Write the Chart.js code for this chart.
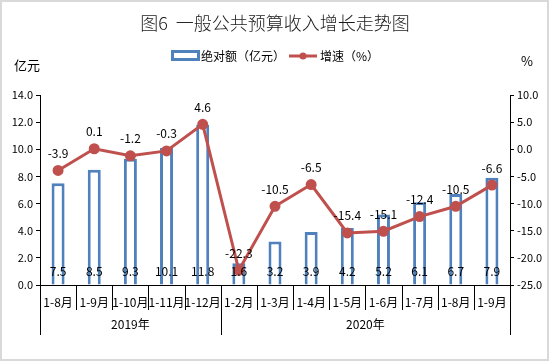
<!DOCTYPE html>
<html><head><meta charset="utf-8">
<script src="https://cdn.jsdelivr.net/npm/chart.js@4/dist/chart.umd.min.js"></script>
<style>html,body{margin:0;padding:0;background:#fff}#wrap{width:549px;height:361px;position:relative}</style>
</head><body><div id="wrap"><canvas id="c" width="549" height="361"></canvas></div>
<script>
const categories = ['1-8月','1-9月','1-10月','1-11月','1-12月','1-2月','1-3月','1-4月','1-5月','1-6月','1-7月','1-8月','1-9月'];
const groups = [{label:'2019年', from:0, to:4},{label:'2020年', from:5, to:12}];
const amountValues = [7.5, 8.5, 9.3, 10.1, 11.8, 1.6, 3.2, 3.9, 4.2, 5.2, 6.1, 6.7, 7.9];
const growthValues = [-3.9, 0.1, -1.2, -0.3, 4.6, -22.3, -10.5, -6.5, -15.4, -15.1, -12.4, -10.5, -6.6];
const leftTicks = [0, 14, 2];
const rightTicks = [-25, 10, 5];

const FONT = '"Microsoft YaHei","Noto Sans CJK SC",sans-serif';
const BLUE = '#4F81BD', RED = '#C0504D', TXT = '#000000';

const decor = {
  id:'decor',
  afterDraw(chart){
    const ctx = chart.ctx, ca = chart.chartArea, x = chart.scales.x;
    ctx.save();
    // border
    ctx.strokeStyle = '#d9d9d9'; ctx.lineWidth = 2;
    ctx.strokeRect(1,1,chart.width-2,chart.height-2);
    // title
    ctx.fillStyle = '#1a1a1a'; ctx.textAlign='center'; ctx.textBaseline='middle';
    ctx.font = '300 18px '+FONT;
    ctx.fillText('图6  一般公共预算收入增长走势图', 275, 23);
    // legend
    ctx.font = '12px '+FONT; ctx.textAlign='left';
    ctx.fillStyle='#fff'; ctx.strokeStyle=BLUE; ctx.lineWidth=3;
    ctx.fillRect(172.5,51.5,26,8); ctx.strokeRect(172.5,51.5,26,8);
    ctx.fillStyle=TXT; ctx.fillText(chart.data.datasets[0].label, 201, 56);
    ctx.strokeStyle=RED; ctx.lineWidth=3;
    ctx.beginPath(); ctx.moveTo(289,56); ctx.lineTo(317,56); ctx.stroke();
    ctx.fillStyle=RED; ctx.beginPath(); ctx.arc(303,56,3.5,0,Math.PI*2); ctx.fill();
    ctx.fillStyle=TXT; ctx.fillText(chart.data.datasets[1].label, 320, 56);
    // axis titles
    ctx.font = '13px '+FONT;
    ctx.textAlign='center';
    ctx.fillText('亿元', 27, 65);
    ctx.fillText('%', 527, 61);
    // data labels
    ctx.font = '12px '+FONT;
    const m0 = chart.getDatasetMeta(0), m1 = chart.getDatasetMeta(1);
    const y0 = chart.scales.y.getPixelForValue(0);
    m0.data.forEach((el,i)=>{ ctx.fillText(amountValues[i].toFixed(1), el.x, y0-14); });
    m1.data.forEach((el,i)=>{ ctx.fillText(growthValues[i].toFixed(1), el.x, el.y-17); });
    // category axis labels and separators
    ctx.strokeStyle='#000'; ctx.lineWidth=1;
    const n = categories.length;
    const half = (x.getPixelForValue(1)-x.getPixelForValue(0))/2;
    ctx.font = '12px '+FONT;
    categories.forEach((c,i)=>{ ctx.fillText(c, x.getPixelForValue(i), 302); });
    const groupEdges = new Set();
    groups.forEach(g=>{ groupEdges.add(g.from); groupEdges.add(g.to+1); });
    for(let i=0;i<=n;i++){
      const px = Math.round(x.getPixelForValue(i)-half)+0.5;
      ctx.beginPath(); ctx.moveTo(px, ca.bottom); ctx.lineTo(px, groupEdges.has(i)?335:310); ctx.stroke();
    }
    groups.forEach(g=>{
      const cx = (x.getPixelForValue(g.from)+x.getPixelForValue(g.to))/2;
      ctx.fillText(g.label, cx, 324);
    });
    ctx.restore();
  }
};

const axisCommon = {
  grid:{display:true, drawOnChartArea:false, drawTicks:true, tickLength:4, color:'#000'},
  border:{display:true, color:'#000', width:1},
  ticks:{color:TXT, font:{family:FONT, size:11}, padding:3, callback:v=>Number(v).toFixed(1)}
};

new Chart(document.getElementById('c'), {
  data:{
    labels: categories,
    datasets:[
      {type:'bar', label:'绝对额（亿元）', data:amountValues, yAxisID:'y',
       backgroundColor:'#ffffff', borderColor:BLUE, borderWidth:3,
       barPercentage:0.36, categoryPercentage:1, order:2},
      {type:'line', label:'增速（%）', data:growthValues, yAxisID:'y1',
       borderColor:RED, backgroundColor:RED, borderWidth:3, pointRadius:4,
       pointBackgroundColor:RED, pointBorderColor:RED, tension:0, order:1}
    ]
  },
  options:{
    responsive:false, animation:false, devicePixelRatio:1,
    layout:{padding:{left:0,right:0,top:95,bottom:76}},
    plugins:{legend:{display:false}, title:{display:false}, tooltip:{enabled:false}},
    scales:{
      x:{type:'category', offset:true, grid:{display:false}, border:{display:true,color:'#000'},
         ticks:{display:false}, afterFit:s=>{s.height=0;}},
      y:Object.assign({}, axisCommon, {position:'left', min:leftTicks[0], max:leftTicks[1],
         ticks:Object.assign({}, axisCommon.ticks, {stepSize:leftTicks[2]}), afterFit:s=>{s.width=40;}}),
      y1:Object.assign({}, axisCommon, {position:'right', min:rightTicks[0], max:rightTicks[1],
         ticks:Object.assign({}, axisCommon.ticks, {stepSize:rightTicks[2]}), afterFit:s=>{s.width=39;}})
    }
  },
  plugins:[decor]
});
</script></body></html>
